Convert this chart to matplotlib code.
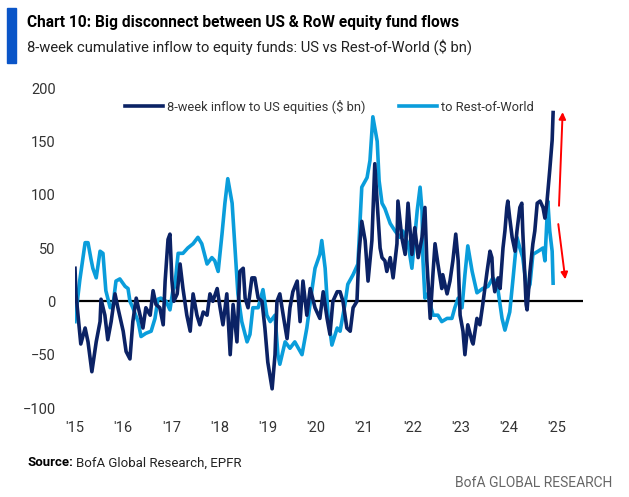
import numpy as np
import matplotlib
matplotlib.use("Agg")
import matplotlib.pyplot as plt
from matplotlib.patches import Rectangle

# ----------------------------
# Data, x in decimal years
# ----------------------------
us_years = [2015.00, 2015.02, 2015.12, 2015.21, 2015.27, 2015.35, 2015.44, 2015.52, 2015.54, 2015.62,
            2015.68, 2015.75, 2015.83, 2015.89, 2016.00, 2016.06, 2016.14, 2016.20, 2016.27, 2016.35,
            2016.41, 2016.47, 2016.56, 2016.62, 2016.68, 2016.76, 2016.83, 2016.87, 2016.93, 2016.97,
            2017.01, 2017.05, 2017.12, 2017.18, 2017.24, 2017.32, 2017.39, 2017.45, 2017.53, 2017.59,
            2017.66, 2017.74, 2017.80, 2017.86, 2017.95, 2018.01, 2018.07, 2018.15, 2018.22, 2018.28,
            2018.36, 2018.42, 2018.49, 2018.53, 2018.59, 2018.67, 2018.73, 2018.80, 2018.88, 2018.94,
            2019.00, 2019.09, 2019.15, 2019.19, 2019.25, 2019.32, 2019.40, 2019.46, 2019.52, 2019.61,
            2019.67, 2019.73, 2019.81, 2019.88, 2019.98, 2020.08, 2020.15, 2020.23, 2020.29, 2020.35,
            2020.44, 2020.50, 2020.56, 2020.64, 2020.71, 2020.77, 2020.85, 2020.89, 2020.95, 2021.02,
            2021.08, 2021.16, 2021.22, 2021.27, 2021.33, 2021.37, 2021.43, 2021.47, 2021.54, 2021.60,
            2021.68, 2021.70, 2021.78, 2021.85, 2021.91, 2021.99, 2022.05, 2022.12, 2022.20, 2022.26,
            2022.30, 2022.37, 2022.43, 2022.47, 2022.53, 2022.61, 2022.63, 2022.72, 2022.78, 2022.84,
            2022.90, 2022.95, 2022.99, 2023.05, 2023.09, 2023.15, 2023.24, 2023.26, 2023.34, 2023.40,
            2023.46, 2023.55, 2023.61, 2023.65, 2023.67, 2023.71, 2023.78, 2023.82, 2023.88, 2023.92,
            2023.96, 2023.98, 2024.02, 2024.07, 2024.13, 2024.17, 2024.23, 2024.27, 2024.29, 2024.36,
            2024.38, 2024.44, 2024.50, 2024.54, 2024.59, 2024.65, 2024.71, 2024.75, 2024.79, 2024.85,
            2024.90, 2024.92]
us_flow = [31, 7, -40, -25, -38, -66, -38, -19, 2, -13,
           -36, -19, 7, -6, -28, -47, -54, -19, 3, -13,
           -25, -6, -13, 10, -3, -6, -22, 19, 58, 63,
           20, 0, 7, 35, 12, -13, -28, 7, -13, -22,
           -10, -13, 7, 0, 12, -6, -22, 7, -50, -3,
           -38, 28, 31, 3, -6, 22, 22, 3, 0, -25,
           -57, -82, -50, 0, 7, -13, -35, -6, 9, 19,
           -19, 19, -13, 12, -6, -16, 9, -16, -31, 0,
           9, 9, 0, -25, -28, -6, 0, 44, 75, 57,
           19, 57, 129, 92, 50, 41, 38, 28, 41, 22,
           54, 94, 60, 44, 92, 44, 69, 41, 60, 88,
           38, -16, 28, 54, 35, 12, 25, 7, 19, 38,
           63, 38, -13, -28, -50, -22, -38, -40, -16, -22,
           -3, 28, 47, 41, 22, 9, 22, 12, 50, 66,
           88, 94, 78, 60, 47, 66, 88, 92, 66, -3,
           -8, 28, 54, 66, 92, 94, 88, 78, 92, 123,
           151, 177]

row_years = [2015.00, 2015.10, 2015.21, 2015.27, 2015.33, 2015.37, 2015.44, 2015.52, 2015.58, 2015.64,
             2015.73, 2015.79, 2015.85, 2015.93, 2016.04, 2016.10, 2016.14, 2016.20, 2016.31, 2016.37,
             2016.47, 2016.58, 2016.66, 2016.72, 2016.78, 2016.89, 2016.97, 2017.03, 2017.07, 2017.14,
             2017.24, 2017.34, 2017.45, 2017.55, 2017.63, 2017.74, 2017.84, 2017.90, 2017.97, 2018.05,
             2018.11, 2018.17, 2018.26, 2018.32, 2018.38, 2018.46, 2018.57, 2018.63, 2018.69, 2018.80,
             2018.90, 2018.98, 2019.05, 2019.15, 2019.21, 2019.25, 2019.36, 2019.46, 2019.56, 2019.71,
             2019.81, 2019.92, 2019.98, 2020.08, 2020.12, 2020.19, 2020.25, 2020.33, 2020.44, 2020.50,
             2020.60, 2020.66, 2020.77, 2020.87, 2020.95, 2021.06, 2021.12, 2021.18, 2021.27, 2021.31,
             2021.37, 2021.43, 2021.54, 2021.64, 2021.74, 2021.80, 2021.91, 2021.99, 2022.10, 2022.16,
             2022.20, 2022.22, 2022.26, 2022.32, 2022.37, 2022.43, 2022.53, 2022.61, 2022.72, 2022.82,
             2022.88, 2022.95, 2023.03, 2023.09, 2023.15, 2023.24, 2023.34, 2023.46, 2023.57, 2023.67,
             2023.76, 2023.86, 2023.92, 2024.02, 2024.09, 2024.17, 2024.23, 2024.29, 2024.38, 2024.44,
             2024.50, 2024.61, 2024.71, 2024.75, 2024.81, 2024.85, 2024.90, 2024.92]
row_flow = [-19, 20, 55, 55, 40, 31, 22, 47, 45, 10,
            -6, -3, 19, 21, 14, 12, 0, -6, -19, -33,
            -30, -28, -16, 2, 3, 0, -8, 10, 14, 45,
            45, 50, 54, 60, 54, 35, 41, 38, 28, 63,
            92, 115, 92, 50, 7, -19, -38, -31, -6, -6,
            11, -13, -19, -13, -50, -59, -38, -44, -38, -50,
            -25, 12, 31, 44, 57, 31, -13, -41, -25, -28,
            -3, 16, 25, 35, 107, 116, 132, 173, 150, 113,
            92, 87, 73, 66, 60, 66, 54, 31, 85, 107,
            85, 38, 3, 7, -3, -13, -13, -19, -16, -16,
            -6, 3, -6, 25, 52, 28, 8, 12, 14, 22,
            16, -16, -27, -10, 22, 60, 50, 41, 9, 16,
            44, 47, 50, 38, 94, 66, 47, 17]

year_ticks = list(range(2015, 2026))
year_labels = ["'%02d" % (y % 100) for y in year_ticks]
y_ticks = [-100, -50, 0, 50, 100, 150, 200]

NAVY = "#0b2265"
LIGHT = "#0a9ddb"
GREY = "#333333"

# ----------------------------
# Figure
# ----------------------------
plt.rcParams['font.family'] = ['Roboto', 'DejaVu Sans']
fig = plt.figure(figsize=(6.29, 4.97), dpi=100)
ax = fig.add_axes([75 / 629, 1 - 408 / 497, 508 / 629, 320 / 497])

ax.axhline(0, color="black", lw=1.6, zorder=1)
ax.plot(us_years, us_flow, color=NAVY, lw=2.6, label="8-week inflow to US equities ($ bn)", zorder=3)
ax.plot(row_years, row_flow, color=LIGHT, lw=2.6, label="to Rest-of-World", zorder=2)

# red arrows at the end
arrow = dict(arrowstyle="-|>", color="red", lw=1.4, mutation_scale=10)
ax.annotate("", xy=(2025.12, 180), xytext=(2025.04, 87), arrowprops=arrow)
ax.annotate("", xy=(2025.18, 18), xytext=(2025.02, 75), arrowprops=arrow)

ax.set_xlim(2015, 2025.54)
ax.set_ylim(-100, 200)
ax.set_xticks(year_ticks)
ax.set_xticklabels(year_labels)
ax.set_yticks(y_ticks)
for s in ax.spines.values():
    s.set_visible(False)
ax.tick_params(axis="both", length=0, labelsize=10.5, colors=GREY)
ax.tick_params(axis="y", pad=14)
ax.tick_params(axis="x", pad=9)

ax.legend(loc="upper center", bbox_to_anchor=(0.50, 1.0), ncol=2, frameon=False,
          fontsize=9.3, handlelength=3.0, columnspacing=2.6, handletextpad=0.25,
          labelcolor=GREY)

# ----------------------------
# Titles and footer
# ----------------------------
fig.patches.append(Rectangle((7 / 629, 1 - 63 / 497), 9 / 629, 55 / 497,
                             transform=fig.transFigure, color="#0a55c8"))
fig.text(27 / 629, 1 - 22 / 497, "Chart 10: Big disconnect between US & RoW equity fund flows",
         fontsize=11.2, fontweight="bold", va="center", ha="left", color="black")
fig.text(27 / 629, 1 - 47 / 497, "8-week cumulative inflow to equity funds: US vs Rest-of-World ($ bn)",
         fontsize=10.6, va="center", ha="left", color="#222222")

src = fig.text(27 / 629, 1 - 463 / 497, "Source:", fontsize=9.5, fontweight="bold",
               va="center", ha="left", color="black")
fig.canvas.draw()
bb = src.get_window_extent()
fig.text((bb.x1 + 3) / 629, 1 - 463 / 497, "BofA Global Research, EPFR", fontsize=9.5,
         va="center", ha="left", color="#222222")
fig.text(612 / 629, 1 - 483 / 497, "BofA GLOBAL RESEARCH", fontsize=10,
         va="center", ha="right", color="#666666")

fig.savefig("out.png", dpi=100)
